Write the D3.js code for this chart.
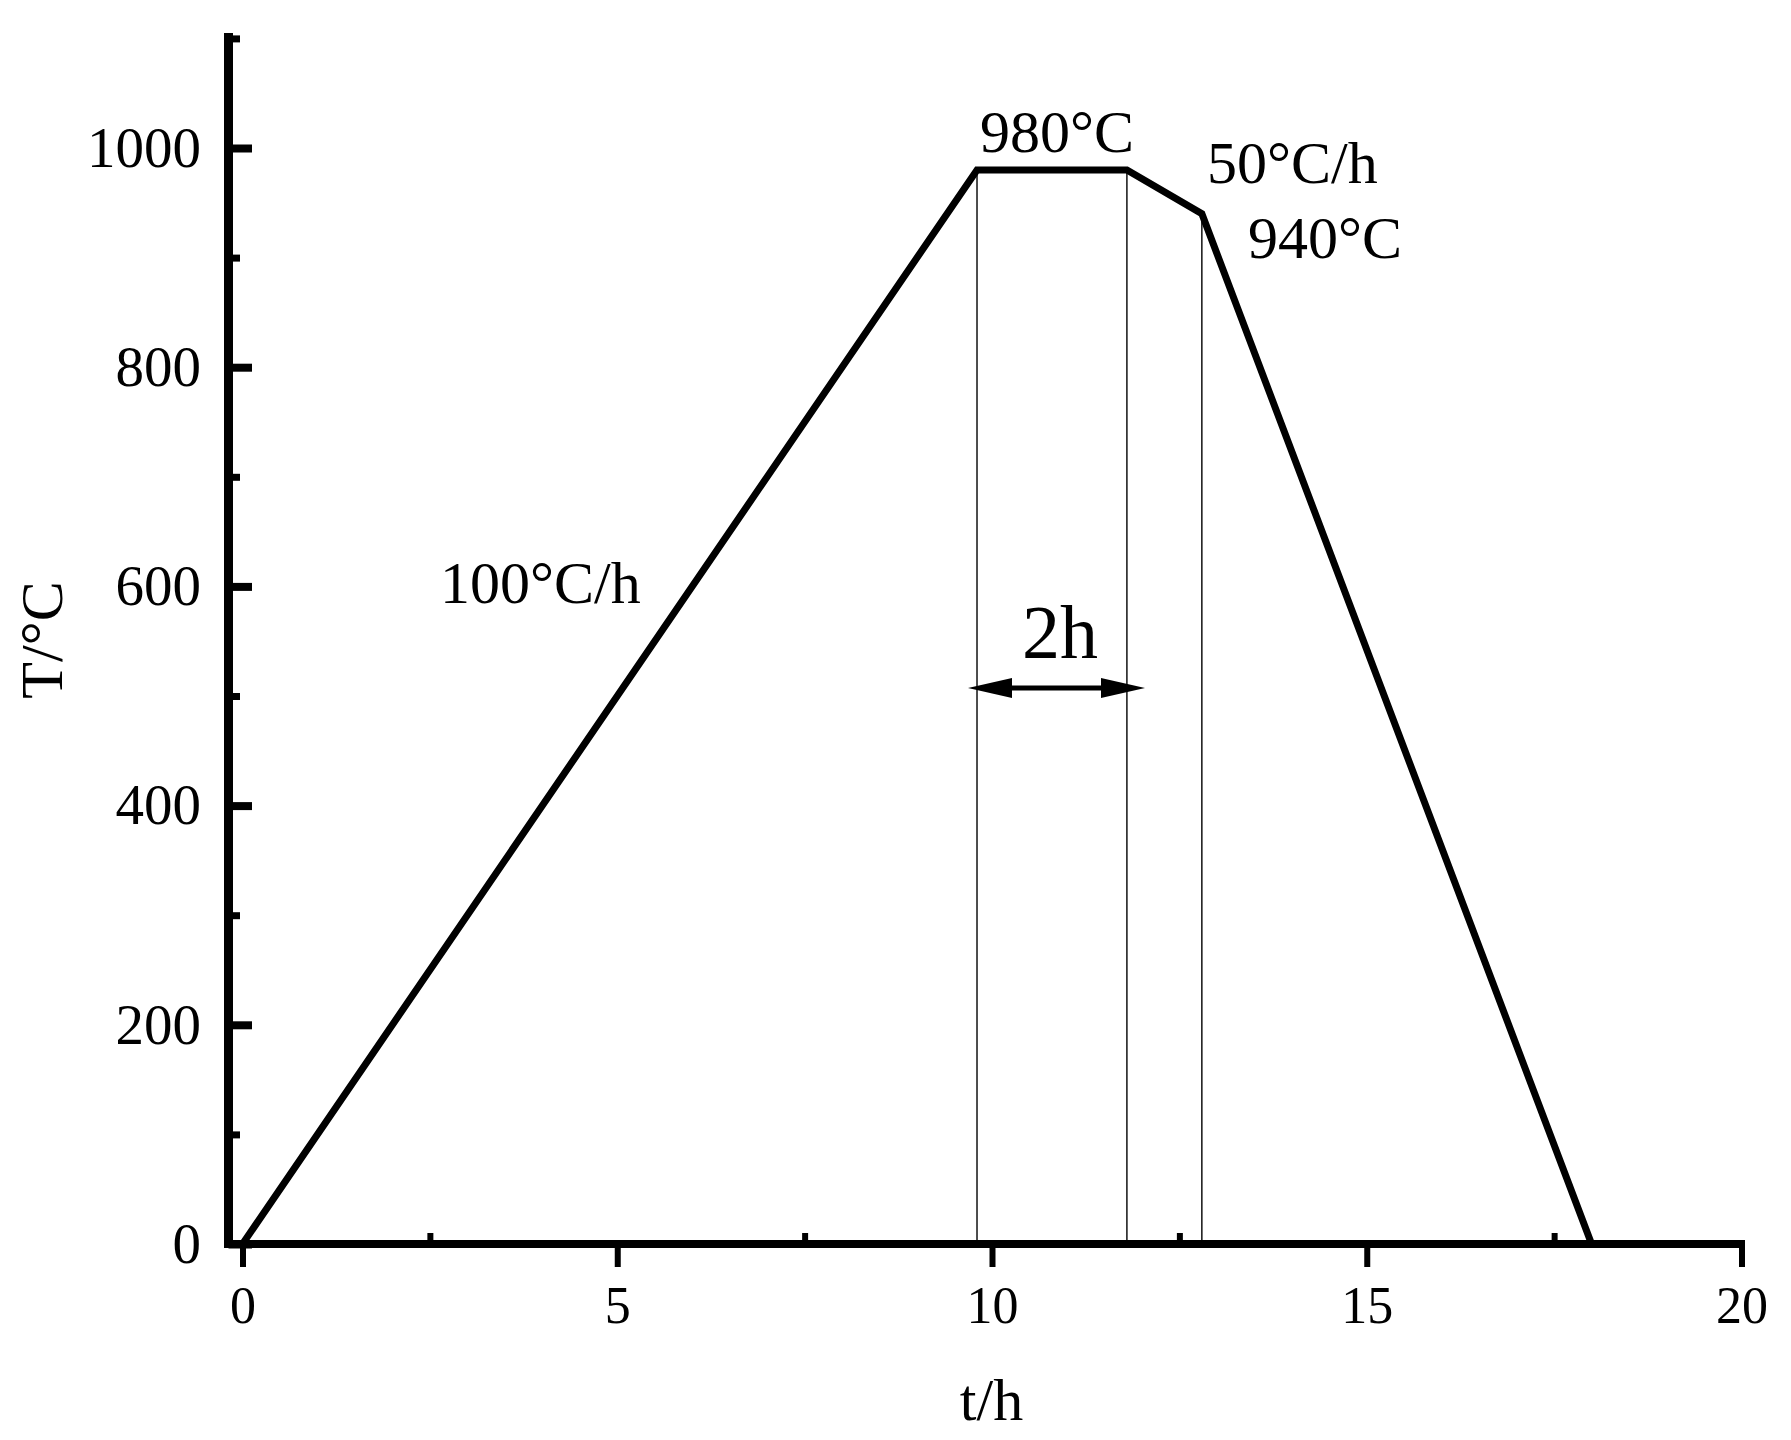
<!DOCTYPE html>
<html>
<head>
<meta charset="utf-8">
<script src="https://cdn.jsdelivr.net/npm/d3@7"></script>
<style>
html,body{margin:0;padding:0;background:#fff;}
text{font-family:"Liberation Serif","Times New Roman",serif;fill:#000;}
</style>
</head>
<body>
<svg id="chart" width="1791" height="1440"></svg>
<script>
// ---- data ----
const times = [0, 9.8, 11.8, 12.8, 18];          // t/h
const temps = [0, 980, 980, 940, 0];             // T/°C
const guideTimes = [9.8, 11.8, 12.8];            // thin vertical guide lines
const xMajorTicks = [0, 5, 10, 15, 20];
const xMinorTicks = [2.5, 7.5, 12.5, 17.5];
const yMajorTicks = [0, 200, 400, 600, 800, 1000];
const yMinorTicks = [100, 300, 500, 700, 900, 1100];
const xTitle = "t/h";
const yTitle = "T/°C";
const labels = ["100°C/h", "980°C", "50°C/h", "940°C", "2h"];

// ---- drawing ----
const svg = d3.select("#chart");
const x = d3.scaleLinear().domain([0, 20]).range([242.5, 1741.5]);
const y = d3.scaleLinear().domain([0, 1100]).range([1244, 38.4]);
const axisX = 228.5;

// thin guides
svg.append("g").selectAll("line").data(guideTimes).join("line")
  .attr("x1", d => x(d)).attr("x2", d => x(d))
  .attr("y1", d => y(temps[times.indexOf(d)])).attr("y2", y(0))
  .attr("stroke", "#000").attr("stroke-width", 1.4);

// curve
const line = d3.line().x((d, i) => x(times[i])).y(d => y(d));
svg.append("path").datum(temps).attr("d", line)
  .attr("fill", "none").attr("stroke", "#000").attr("stroke-width", 7)
  .attr("stroke-linejoin", "miter");

// x axis ticks (major downwards, minor upwards)
const gx = svg.append("g").attr("transform", `translate(0,${y(0)})`);
gx.call(d3.axisBottom(x).tickValues(xMajorTicks).tickFormat(d3.format("d"))
  .tickSizeInner(23).tickSizeOuter(0).tickPadding(19));
gx.selectAll(".tick line").attr("stroke-width", 6);
gx.selectAll(".tick text").attr("font-size", 52).style("font-family", "Liberation Serif");
gx.select(".domain").remove();
const gx2 = svg.append("g").attr("transform", `translate(0,${y(0)})`);
gx2.call(d3.axisTop(x).tickValues(xMinorTicks).tickSizeInner(11).tickSizeOuter(0).tickFormat(""));
gx2.selectAll(".tick line").attr("stroke-width", 6);
gx2.select(".domain").remove();

// y axis ticks (inward) + labels
const gy = svg.append("g").attr("transform", `translate(${axisX},0)`);
gy.call(d3.axisRight(y).tickValues(yMajorTicks).tickSizeInner(23.5).tickSizeOuter(0).tickFormat(""));
gy.selectAll(".tick line").attr("stroke-width", 8);
gy.select(".domain").remove();
const gy2 = svg.append("g").attr("transform", `translate(${axisX},0)`);
gy2.call(d3.axisRight(y).tickValues(yMinorTicks).tickSizeInner(11.5).tickSizeOuter(0).tickFormat(""));
gy2.selectAll(".tick line").attr("stroke-width", 7);
gy2.select(".domain").remove();
const gy3 = svg.append("g").attr("transform", `translate(${axisX},0)`);
gy3.call(d3.axisLeft(y).tickValues(yMajorTicks).tickFormat(d3.format("d"))
  .tickSizeInner(0).tickSizeOuter(0).tickPadding(27.5));
gy3.selectAll(".tick text").attr("font-size", 57).style("font-family", "Liberation Serif");
gy3.select(".domain").remove();

// axis lines
svg.append("line").attr("x1", axisX).attr("x2", axisX).attr("y1", 33).attr("y2", y(0) + 4)
  .attr("stroke", "#000").attr("stroke-width", 9);
svg.append("line").attr("x1", 224).attr("x2", 1745).attr("y1", y(0)).attr("y2", y(0))
  .attr("stroke", "#000").attr("stroke-width", 8);

// axis titles
svg.append("text").attr("x", 991.5).attr("y", 1420).attr("text-anchor", "middle")
  .attr("font-size", 60).text(xTitle);
svg.append("text").attr("transform", "translate(62,640) rotate(-90)").attr("text-anchor", "middle")
  .attr("font-size", 60).text(yTitle);

// annotations
const ann = [
  {t: labels[0], px: 440, py: 603, s: 60},
  {t: labels[1], px: 980, py: 152, s: 60},
  {t: labels[2], px: 1207, py: 183, s: 60},
  {t: labels[3], px: 1248, py: 258, s: 60},
  {t: labels[4], px: 1060, py: 658, s: 76, anchor: "middle"}
];
svg.append("g").selectAll("text").data(ann).join("text")
  .attr("x", d => d.px).attr("y", d => d.py).attr("font-size", d => d.s)
  .attr("text-anchor", d => d.anchor || "start").text(d => d.t);

// double arrow
const ay = 688, ax1 = 968, ax2 = 1145, hl = 44, hw = 10;
svg.append("line").attr("x1", ax1 + 20).attr("x2", ax2 - 20).attr("y1", ay).attr("y2", ay)
  .attr("stroke", "#000").attr("stroke-width", 5);
svg.append("path").attr("d", `M${ax1},${ay}L${ax1 + hl},${ay - hw}L${ax1 + hl},${ay + hw}Z`).attr("fill", "#000");
svg.append("path").attr("d", `M${ax2},${ay}L${ax2 - hl},${ay - hw}L${ax2 - hl},${ay + hw}Z`).attr("fill", "#000");
</script>
</body>
</html>
